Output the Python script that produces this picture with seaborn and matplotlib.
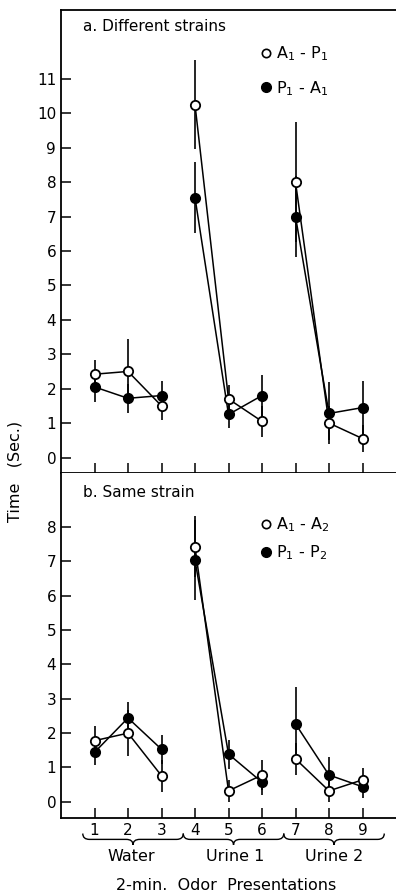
import numpy as np
import pandas as pd
import matplotlib
matplotlib.use("Agg")
import matplotlib.pyplot as plt
from matplotlib.lines import Line2D
from matplotlib.path import Path
from matplotlib.patches import PathPatch
import matplotlib.transforms as mtransforms
import seaborn as sns

sns.set_style("ticks")
plt.rcParams['font.family'] = ['DejaVu Sans']
plt.rcParams.update({"text.color": "black", "axes.labelcolor": "black",
                     "xtick.color": "black", "ytick.color": "black",
                     "axes.edgecolor": "black"})

# presentation number, block (odor) and values
presentation = [1, 2, 3, 4, 5, 6, 7, 8, 9]
block = ["Water", "Water", "Water", "Urine 1", "Urine 1", "Urine 1", "Urine 2", "Urine 2", "Urine 2"]

# a. Different strains
a_open = [2.42, 2.5, 1.5, 10.25, 1.7, 1.05, 8.0, 1.0, 0.55]
a_open_err = [0.42, 0.95, 0.4, 1.3, 0.4, 0.45, 1.74, 0.5, 0.4]
a_filled = [2.05, 1.72, 1.8, 7.55, 1.25, 1.8, 7.0, 1.28, 1.45]
a_filled_err = [0.43, 0.42, 0.42, 1.02, 0.4, 0.6, 1.17, 0.9, 0.78]

# b. Same strain
b_open = [1.78, 2.0, 0.76, 7.42, 0.32, 0.78, 1.25, 0.32, 0.64]
b_open_err = [0.42, 0.68, 0.46, 0.89, 0.32, 0.44, 0.47, 0.32, 0.34]
b_filled = [1.44, 2.44, 1.53, 7.03, 1.39, 0.57, 2.27, 0.78, 0.44]
b_filled_err = [0.37, 0.48, 0.42, 1.16, 0.42, 0.37, 1.07, 0.52, 0.32]

group_labels = ["Water", "Urine 1", "Urine 2"]
group_label_x = [2.1, 5.2, 8.15]


def make_df(open_v, open_e, filled_v, filled_e, open_name, filled_name):
    d1 = pd.DataFrame({"x": presentation, "y": open_v, "err": open_e,
                       "block": block, "series": open_name, "fill": "white"})
    d2 = pd.DataFrame({"x": presentation, "y": filled_v, "err": filled_e,
                       "block": block, "series": filled_name, "fill": "black"})
    return pd.concat([d1, d2], ignore_index=True)


df_a = make_df(a_open, a_open_err, a_filled, a_filled_err,
               r"A$_1$ - P$_1$", r"P$_1$ - A$_1$")
df_b = make_df(b_open, b_open_err, b_filled, b_filled_err,
               r"A$_1$ - A$_2$", r"P$_1$ - P$_2$")

fig = plt.figure(figsize=(3.96, 8.94), dpi=100)
ax1 = fig.add_axes([61 / 396, 1 - 473 / 894, 1 - 61 / 396, 463 / 894])
ax2 = fig.add_axes([61 / 396, 1 - 818 / 894, 1 - 61 / 396, 345 / 894])


def draw_panel(ax, df):
    df = df.copy()
    df["unit"] = df["series"] + df["block"]
    sns.lineplot(data=df, x="x", y="y", units="unit", estimator=None,
                 hue="series", palette=["black", "black"], legend=False,
                 linewidth=1.1, ax=ax, zorder=2)
    ax.errorbar(df["x"], df["y"], yerr=df["err"], fmt="none",
                ecolor="black", elinewidth=1.2, capsize=0, zorder=1)
    for fill, sub in df.groupby("fill"):
        sns.scatterplot(data=sub, x="x", y="y", s=45, color=fill,
                        edgecolor="black", linewidth=1.3, ax=ax,
                        zorder=4, legend=False)
    ax.set_xlim(0, 10)
    ax.set_xticks(presentation)
    ax.tick_params(direction="in", length=7, width=1.1, labelsize=11)
    ax.set_xlabel("")
    ax.set_ylabel("")
    for s in ax.spines.values():
        s.set_linewidth(1.3)
    ax.spines["right"].set_visible(False)


draw_panel(ax1, df_a)
draw_panel(ax2, df_b)

ax1.set_ylim(-0.45, 13.0)
ax1.set_yticks(range(0, 12))
ax1.tick_params(axis="x", labelbottom=False)
ax2.set_ylim(-0.47, 9.57)
ax2.set_yticks(range(0, 9))
ax2.spines["top"].set_visible(False)

ax1.text(0.065, 0.98, "a. Different strains", transform=ax1.transAxes,
         fontsize=11, va="top", ha="left")
ax2.text(0.065, 0.965, "b. Same strain", transform=ax2.transAxes,
         fontsize=11, va="top", ha="left")


def legend_for(ax, df, anchor, spacing):
    names = list(dict.fromkeys(df["series"]))
    handles = [Line2D([], [], ls="none", marker="o", markersize=6,
                      markerfacecolor="white", markeredgecolor="black",
                      markeredgewidth=1.2),
               Line2D([], [], ls="none", marker="o", markersize=7,
                      markerfacecolor="black", markeredgecolor="black")]
    ax.legend(handles, names, loc="upper left", bbox_to_anchor=anchor,
              frameon=False, handlelength=0.6, handletextpad=0.3,
              labelspacing=spacing, fontsize=11.5, borderaxespad=0)


legend_for(ax1, df_a, (0.58, 0.94), 1.0)
legend_for(ax2, df_b, (0.58, 0.895), 0.55)

# braces under the tick labels
trans = mtransforms.blended_transform_factory(ax2.transData, ax2.transAxes)
for x0 in [0.65, 3.65, 6.65]:
    x1 = x0 + 3.0
    xm = (x0 + x1) / 2
    top, mid, bot, d = -0.045, -0.062, -0.078, 0.2
    verts = [(x0, top), (x0, mid), (x0 + d, mid),
             (xm - d, mid),
             (xm, mid), (xm, bot),
             (xm, mid), (xm + d, mid),
             (x1 - d, mid),
             (x1, mid), (x1, top)]
    codes = [Path.MOVETO, Path.CURVE3, Path.CURVE3,
             Path.LINETO,
             Path.CURVE3, Path.CURVE3,
             Path.CURVE3, Path.CURVE3,
             Path.LINETO,
             Path.CURVE3, Path.CURVE3]
    ax2.add_patch(PathPatch(Path(verts, codes), transform=trans,
                            facecolor="none", edgecolor="black",
                            linewidth=1.0, clip_on=False))

for lab, xl in zip(group_labels, group_label_x):
    ax2.text(xl, -0.09, lab, transform=trans, ha="center", va="top",
             fontsize=11.5)

fig.text(226 / 396, 1 - 885 / 894, "2-min.  Odor  Presentations",
         ha="center", va="center", fontsize=11.5)
fig.text(15 / 396, 1 - 471 / 894, "Time   (Sec.)", rotation=90,
         ha="center", va="center", fontsize=11.5)

fig.savefig("out.png", dpi=100)
